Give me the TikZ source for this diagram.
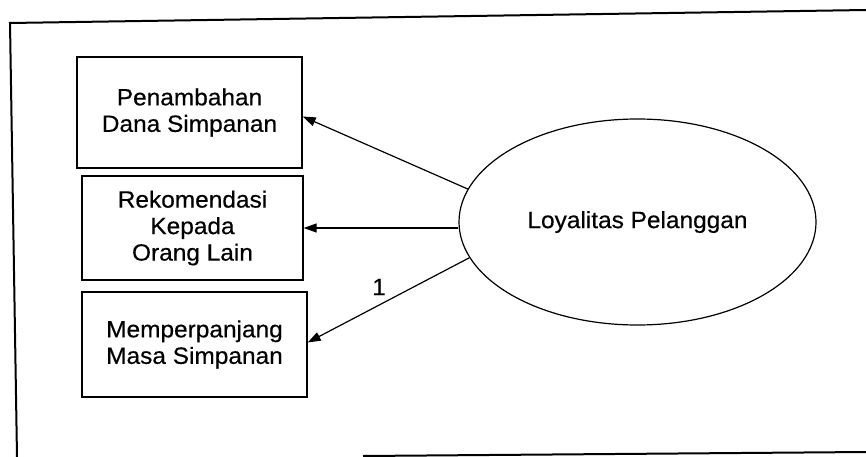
\documentclass[tikz,border=0pt]{standalone}
\usepackage{fontspec}
\setmainfont{Liberation Sans}[FakeStretch=1.04,FakeBold=0.4]
\usetikzlibrary{arrows.meta,shapes.geometric}
\begin{document}
\begin{tikzpicture}[x=1pt,y=-1pt,
  txt/.style={font=\fontsize{23.5}{26.5}\selectfont},
  indicator/.style={draw,line width=1.3pt,align=center,inner sep=0pt,txt},
  latent/.style={draw,ellipse,line width=1.2pt,inner sep=0pt,txt},
  link/.style={line width=1.2pt,-{Triangle[length=13pt,width=9pt]}},
  frame/.style={line width=2pt}]
\useasboundingbox (0,0) rectangle (866,457);

% outer frame
\coordinate (f1) at (10,23);
\coordinate (f2) at (866,10);
\coordinate (f3) at (17,457);
\coordinate (f4) at (363,456);
\coordinate (f5) at (866,452);
\draw[frame] (f3) -- (f1) -- (f2);
\draw[frame] (f4) -- (f5);

% indicators
\node[indicator,minimum width=225pt,minimum height=111pt] (b1) at (189.5,112.5)
  {Penambahan\\Dana Simpanan};
\node[indicator,minimum width=221pt,minimum height=104pt] (b2) at (192.5,228)
  {Rekomendasi\\Kepada\\Orang Lain};
\node[indicator,minimum width=225pt,minimum height=105pt] (b3) at (194.5,344.5)
  {Memperpanjang\\Masa Simpanan};

% latent variable
\node[latent,minimum width=357pt,minimum height=206pt] (L) at (637.5,222)
  {Loyalitas Pelanggan};

% loadings
\draw[link] (L.169) -- ([yshift=-4pt]b1.east);
\draw[link] (L.west |- b2.east) -- (b2.east);
\draw[link] (L.192) -- ([yshift=2pt]b3.east);
\node[txt] (one) at (379,287) {1};
\end{tikzpicture}
\end{document}
